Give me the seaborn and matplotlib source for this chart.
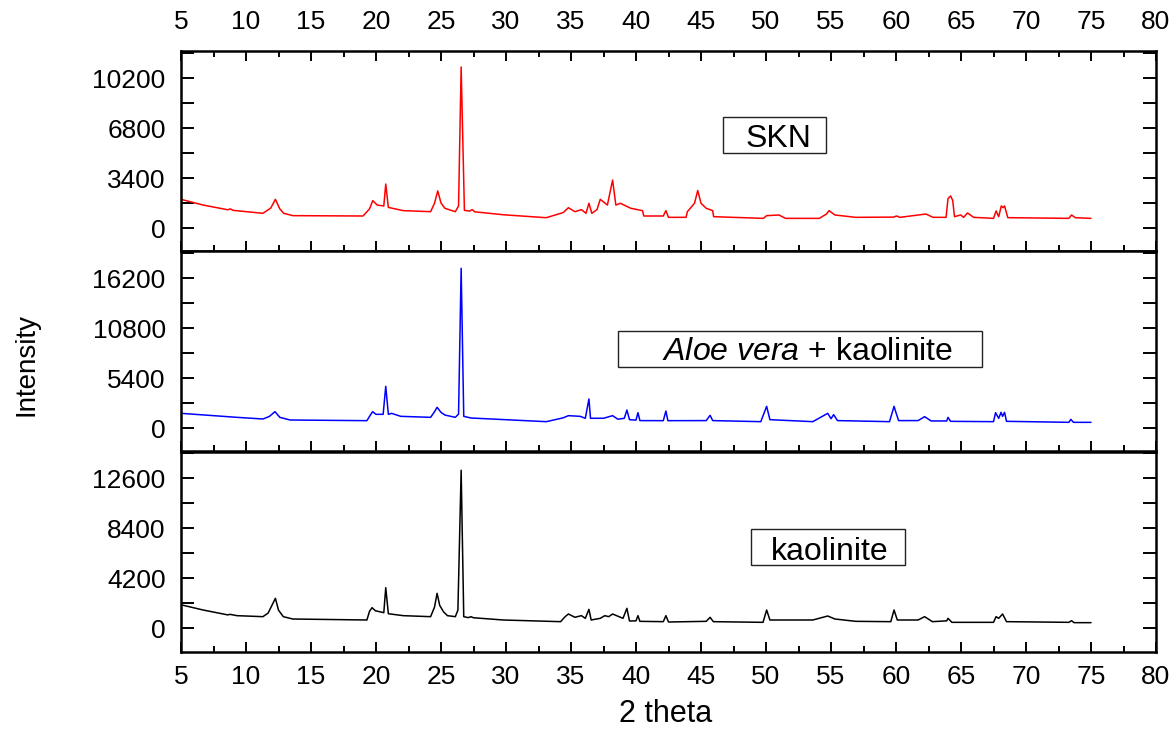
import matplotlib
matplotlib.use("Agg")
import matplotlib.pyplot as plt
from matplotlib.ticker import MultipleLocator, FixedLocator
from matplotlib.patches import Rectangle
import seaborn as sns
import pandas as pd

# ---------------- data ----------------
skn_x = [5.0, 6.7, 8.6, 8.8, 9.0, 11.3, 11.9, 12.26, 12.6, 12.9, 13.6, 19.0, 19.5, 19.75, 20.1,
         20.6, 20.75, 20.95, 22.1, 24.2, 24.5, 24.75, 25.0, 25.3, 26.1, 26.35, 26.55, 26.8, 27.2,
         27.4, 27.6, 29.8, 33.1, 34.4, 34.8, 35.3, 35.8, 36.15, 36.38, 36.6, 37.0, 37.25, 37.8,
         38.2, 38.45, 38.8, 39.6, 40.5, 40.6, 42.1, 42.3, 42.5, 43.85, 43.95, 44.5, 44.75, 45.0,
         45.4, 45.9, 45.97, 49.8, 50.05, 51.0, 51.5, 54.1, 54.65, 54.85, 55.3, 56.9, 59.8, 60.04,
         60.3, 62.3, 62.85, 63.85, 64.0, 64.2, 64.36, 64.5, 64.98, 65.2, 65.5, 65.97, 67.5, 67.7,
         67.9, 68.1, 68.25, 68.35, 68.6, 73.3, 73.5, 73.8, 75.0]
skn_y = [1950, 1560, 1240, 1300, 1200, 1000, 1350, 1950, 1300, 1000, 840, 816, 1300, 1860, 1560,
         1500, 2990, 1400, 1180, 1110, 1680, 2520, 1700, 1340, 1110, 1500, 10950, 1200, 1150,
         1250, 1100, 900, 700, 1050, 1380, 1110, 1250, 1000, 1680, 1000, 1250, 1950, 1560,
         3260, 1560, 1680, 1340, 1180, 816, 816, 1180, 725, 725, 1110, 1680, 2550, 1680,
         1340, 1180, 770, 655, 840, 885, 655, 655, 950, 1180, 885, 725, 740, 816,
         725, 950, 725, 725, 1995, 2180, 1880, 770, 885, 725, 1020, 725, 655, 1160,
         770, 1500, 1380, 1500, 703, 655, 885, 700, 655]

aloe_x = [5.0, 9.3, 11.3, 11.8, 12.23, 12.6, 13.4, 19.3, 19.5, 19.74, 20.0, 20.55, 20.75, 20.95,
          21.2, 21.9, 24.2, 24.5, 24.7, 25.0, 25.3, 26.1, 26.35, 26.55, 26.75, 27.3, 33.1, 34.4,
          34.8, 35.7, 36.1, 36.38, 36.5, 37.5, 38.2, 38.6, 39.1, 39.3, 39.5, 40.0, 40.15, 40.3,
          42.1, 42.3, 42.45, 45.4, 45.7, 45.9, 49.6, 50.05, 50.3, 53.6, 54.75, 55.0, 55.2, 55.5,
          59.5, 59.85, 60.0, 60.2, 61.7, 62.2, 62.7, 63.9, 64.0, 64.2, 67.5, 67.66, 67.9, 68.08,
          68.2, 68.35, 68.5, 73.3, 73.45, 73.65, 75.0]
aloe_y = [1584, 1152, 972, 1250, 1764, 1150, 864, 792, 1250, 1764, 1476, 1476, 4500, 1476,
          1584, 1260, 1152, 1750, 2232, 1692, 1400, 1152, 1500, 17250, 1260, 1080, 684, 1100,
          1332, 1260, 1050, 3132, 1050, 1050, 1332, 950, 1050, 1944, 900, 850, 1656, 800,
          792, 1836, 792, 800, 1368, 800, 684, 2340, 900, 684, 1584, 1000, 1440, 800,
          684, 2340, 1656, 800, 800, 1224, 760, 760, 1150, 720, 684, 1656, 1044, 1692,
          1260, 1692, 720, 612, 936, 612, 612]

kao_x = [5.0, 6.7, 8.6, 8.77, 9.3, 11.3, 11.7, 12.26, 12.5, 12.87, 13.6, 19.3, 19.5, 19.7, 19.95,
         20.6, 20.75, 20.95, 22.1, 24.2, 24.5, 24.7, 24.9, 25.2, 25.5, 26.1, 26.3, 26.55, 26.75,
         27.1, 27.3, 27.5, 29.8, 34.2, 34.55, 34.8, 35.3, 35.8, 36.1, 36.38, 36.55, 37.25, 37.6,
         37.9, 38.2, 39.0, 39.3, 39.5, 40.0, 40.15, 40.3, 42.1, 42.3, 42.5, 45.4, 45.7, 45.95,
         49.77, 50.05, 50.3, 53.6, 54.75, 55.3, 56.9, 59.6, 59.85, 60.1, 61.7, 62.2, 62.8, 63.9,
         64.0, 64.3, 67.5, 67.7, 67.9, 68.2, 68.5, 73.3, 73.5, 73.7, 75.0]
kao_y = [1950, 1512, 1100, 1148, 1036, 952, 1250, 2492, 1500, 952, 756, 672, 1400, 1708, 1450,
         1288, 3388, 1200, 1036, 952, 1750, 2912, 1900, 1350, 1036, 952, 1500, 13250, 952,
         870, 950, 860, 672, 532, 952, 1176, 900, 1036, 812, 1568, 672, 812, 1036,
         952, 1176, 812, 1652, 588, 600, 1036, 560, 532, 1036, 504, 560, 896, 532,
         476, 1512, 672, 672, 1008, 756, 560, 532, 1512, 672, 672, 952, 532, 600,
         812, 476, 476, 952, 812, 1176, 532, 476, 616, 448, 448]

panel_labels = ["SKN", r"$\mathit{Aloe\ vera}$ + kaolinite", "kaolinite"]
y_major_steps = [3400, 5400, 4200]
y_limits = [(-1564, 12036), (-2484, 19116), (-2016, 14784)]
x_ticks = [5, 10, 15, 20, 25, 30, 35, 40, 45, 50, 55, 60, 65, 70, 75, 80]
x_label = "2 theta"
y_label = "Intensity"

# ---------------- style ----------------
sns.set_theme(style="ticks")
plt.rcParams["font.family"] = ["Liberation Sans", "DejaVu Sans"]
plt.rcParams["mathtext.fontset"] = "custom"
plt.rcParams["mathtext.rm"] = "Liberation Sans"
plt.rcParams["mathtext.it"] = "Liberation Sans:italic"

W, H = 1173, 733
fig = plt.figure(figsize=(W / 100, H / 100), dpi=100)

left_px, right_px = 181, 1156
panels_px = [(51, 251), (251, 451), (452, 652)]
colors = ["#ff0000", "#0000ff", "#000000"]
series = [(skn_x, skn_y), (aloe_x, aloe_y), (kao_x, kao_y)]
text_pos = [(0.613, 0.52), (0.643, 0.455), (0.6656, 0.46)]
box_pos = [(0.5559, 0.49, 0.1056, 0.18), (0.448, 0.42, 0.3735, 0.18), (0.5846, 0.435, 0.158, 0.18)]

tick_fs = 19
for i, ((top, bot), col, (xs, ys)) in enumerate(zip(panels_px, colors, series)):
    ax = fig.add_axes([left_px / W, 1 - bot / H, (right_px - left_px) / W, (bot - top) / H])
    df = pd.DataFrame({"x": xs, "y": ys})
    sns.lineplot(data=df, x="x", y="y", ax=ax, color=col, lw=1.1, errorbar=None)
    ax.set_xlim(5, 80)
    ax.set_ylim(*y_limits[i])
    ax.set_xlabel("")
    ax.set_ylabel("")
    for sp in ax.spines.values():
        sp.set_visible(True)
        sp.set_linewidth(1.8)
        sp.set_color("black")

    ax.xaxis.set_major_locator(FixedLocator(x_ticks))
    ax.xaxis.set_minor_locator(MultipleLocator(2.5))
    step = y_major_steps[i]
    ax.yaxis.set_major_locator(MultipleLocator(step))
    ax.yaxis.set_minor_locator(MultipleLocator(step / 2))

    ax.tick_params(axis="y", which="both", direction="in", left=True, right=True,
                   length=9.4, width=1.4, labelsize=tick_fs, pad=11, colors="black")
    if i == 0:
        ax.tick_params(axis="x", which="both", direction="in", top=True, bottom=True,
                       labeltop=True, labelbottom=False, width=1.4, labelsize=tick_fs,
                       pad=12.5, colors="black")
    elif i == 1:
        ax.tick_params(axis="x", which="both", direction="in", top=False, bottom=True,
                       labeltop=False, labelbottom=False, width=1.4, colors="black")
    else:
        ax.tick_params(axis="x", which="both", direction="in", top=False, bottom=True,
                       labeltop=False, labelbottom=True, width=1.4, labelsize=tick_fs,
                       pad=9, colors="black")
    ax.tick_params(axis="x", which="major", length=7.2)
    ax.tick_params(axis="x", which="minor", length=4.3)

    bx, by, bw, bh = box_pos[i]
    ax.add_patch(Rectangle((bx, by), bw, bh, transform=ax.transAxes, fill=False,
                           edgecolor="#222222", lw=1.0, zorder=5))
    tx, ty = text_pos[i]
    ax.text(tx, ty, panel_labels[i], transform=ax.transAxes, ha="center", va="baseline",
            fontsize=23, color="black", zorder=6)

fig.text(27 / W, 1 - 364 / H, y_label, rotation=90, ha="center", va="center",
         fontsize=20, color="black")
fig.text(666 / W, 1 - 714 / H, x_label, ha="center", va="center", fontsize=22, color="black")

fig.savefig("out.png", dpi=100)
